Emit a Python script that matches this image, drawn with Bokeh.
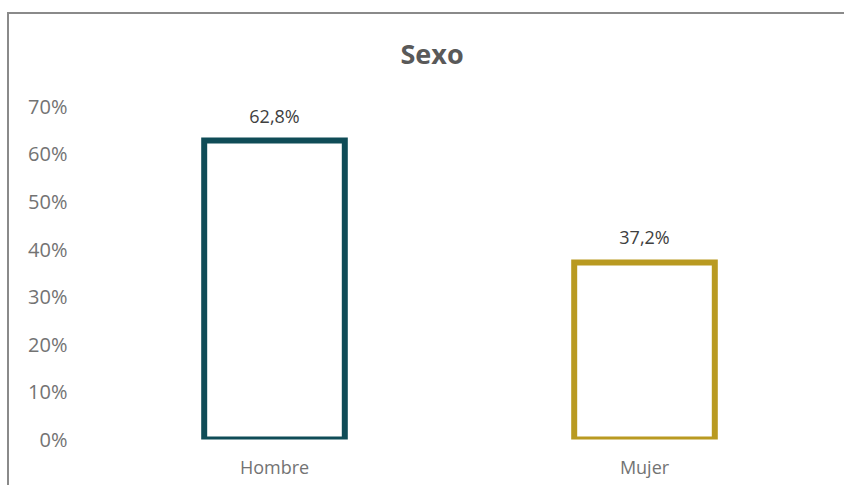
from bokeh.plotting import figure
from bokeh.models import ColumnDataSource, FixedTicker, PrintfTickFormatter, Range1d
from bokeh.core.properties import value
from bokeh.embed import file_html
from bokeh.resources import INLINE

categories = ["Hombre", "Mujer"]
percentages = [62.8, 37.2]
bar_colors = ["#0f4c57", "#b99a21"]
y_ticks = [0, 10, 20, 30, 40, 50, 60, 70]

labels = [f"{v:.1f}".replace(".", ",") + "%" for v in percentages]
src = ColumnDataSource(dict(cat=categories, val=percentages, col=bar_colors, lab=labels))

FONT = "Open Sans"
TITLE_GRAY = "#595959"
AXIS_GRAY = "#737373"

p = figure(x_range=categories, y_range=Range1d(0, 75), width=837, height=473,
           output_backend="svg", toolbar_location=None,
           min_border_left=80, min_border_right=17, min_border_top=68, min_border_bottom=48,
           title="Sexo")
p.margin = (12, 0, 0, 7)
p.styles = {"border-top": "2px solid #8a8a8a", "border-left": "2px solid #8a8a8a",
            "box-sizing": "border-box"}

p.title.align = "left"
p.title.offset = 311
p.title.text_font = FONT
p.title.text_font_size = "27px"
p.title.text_font_style = "bold"
p.title.text_color = TITLE_GRAY
p.title.standoff = 22

p.vbar(x="cat", top="val", width=0.38, source=src, fill_color="white",
       line_color="col", line_width=6, line_join="miter")

p.text(x="cat", y="val", text="lab", source=src, text_align="center",
       text_baseline="bottom", y_offset=-13, text_font=value(FONT),
       text_font_size="18px", text_color="#404040")

p.yaxis.ticker = FixedTicker(ticks=y_ticks)
p.yaxis.formatter = PrintfTickFormatter(format="%d%%")
for ax in (p.xaxis[0], p.yaxis[0]):
    ax.axis_line_color = None
    ax.major_tick_line_color = None
    ax.minor_tick_line_color = None
    ax.major_label_text_font = FONT
    ax.major_label_text_color = AXIS_GRAY
p.yaxis.major_label_text_font_size = "20px"
p.yaxis.major_label_standoff = 16
p.xaxis.major_label_text_font_size = "18px"
p.xaxis.major_label_standoff = 9

p.xgrid.grid_line_color = None
p.ygrid.grid_line_color = None
p.outline_line_color = None
p.x_range.range_padding = 0

open("out.html", "w").write(file_html(p, INLINE))
